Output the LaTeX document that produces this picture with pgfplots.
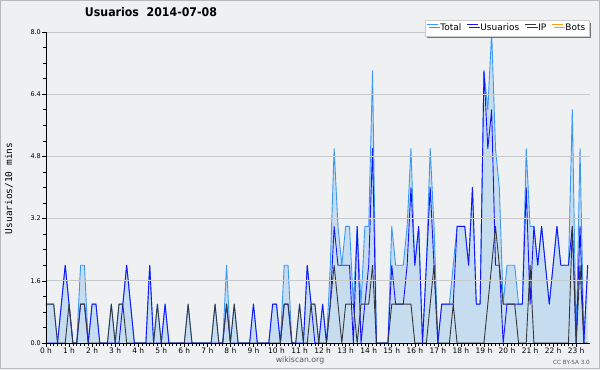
\documentclass[border=0pt]{standalone}
\usepackage{graphicx}
\usepackage{pgfplots}
\pgfplotsset{compat=1.18}
\usepackage{pgfplotstable}
\usepackage{fontspec}
\setmainfont{DejaVu Sans}
\newfontfamily\monofont{DejaVu Sans Mono}
\usetikzlibrary{shadows}
\definecolor{bgc}{RGB}{238,240,242}
\definecolor{fillc}{RGB}{198,221,240}
\definecolor{totc}{RGB}{58,152,250}
\definecolor{usuc}{RGB}{20,20,250}
\definecolor{ipc}{RGB}{55,55,60}
\definecolor{botc}{RGB}{255,160,20}
\definecolor{gridc}{RGB}{200,201,204}

\pgfplotstableread{
i T U P
0 1 0 1
1 1 0 1
2 1 0 1
3 0 0 0
4 1 1 0
5 2 2 0
6 1 1 1
7 0 0 0
8 0 0 0
9 2 1 1
10 2 1 1
11 0 0 0
12 1 1 0
13 1 1 0
14 0 0 0
15 0 0 0
16 0 0 0
17 1 0 1
18 0 0 0
19 1 0 1
20 1 1 1
21 2 2 0
22 1 1 0
23 0 0 0
24 0 0 0
25 0 0 0
26 0 0 0
27 2 2 0
28 0 0 0
29 1 0 1
30 0 0 0
31 1 1 0
32 0 0 0
33 0 0 0
34 0 0 0
35 0 0 0
36 0 0 0
37 1 0 1
38 0 0 0
39 0 0 0
40 0 0 0
41 0 0 0
42 0 0 0
43 0 0 0
44 1 0 1
45 0 0 0
46 0 0 0
47 2 1 1
48 0 0 0
49 1 0 1
50 0 0 0
51 0 0 0
52 0 0 0
53 0 0 0
54 1 1 0
55 0 0 0
56 0 0 0
57 0 0 0
58 0 0 0
59 1 1 0
60 1 1 0
61 0 0 0
62 2 1 1
63 2 1 1
64 0 0 0
65 0 0 0
66 1 0 1
67 0 0 0
68 2 2 0
69 1 1 1
70 1 0 1
71 0 0 0
72 1 1 0
73 0 0 0
74 2 1 1
75 5 3 2
76 3 2 1
77 2 2 0
78 3 2 1
79 3 2 1
80 1 0 1
81 3 3 0
82 1 0 1
83 3 1 1
84 3 2 1
85 7 5 2
86 0 0 0
87 0 0 0
88 0 0 0
89 0 0 0
90 3 2 1
91 2 1 1
92 2 1 1
93 2 1 1
94 3 2 1
95 5 4 1
96 2 2 0
97 3 3 0
98 0 0 0
99 2 2 0
100 5 4 1
101 3 2 2
102 0 0 0
103 1 1 0
104 1 1 0
105 1 1 0
106 2 1 1
107 3 3 0
108 3 3 0
109 3 3 0
110 2 2 0
111 4 4 0
112 1 1 0
113 1 1 0
114 7 7 0
115 6 5 1
116 8 6 2
117 5 2 3
118 4 2 2
119 1 0 1
120 2 1 1
121 2 1 1
122 2 1 1
123 1 1 0
124 1 1 0
125 5 4 0
126 3 1 2
127 3 3 0
128 2 2 0
129 3 3 0
130 2 2 0
131 1 1 0
132 2 2 0
133 3 3 0
134 2 2 0
135 2 2 0
136 2 2 0
137 6 3 3
138 0 0 0
139 5 3 2
140 0 0 0
141 2 2 0
}\datatable

\begin{document}
\begin{tikzpicture}
\useasboundingbox (0,0) rectangle (600bp,370bp);
\fill[bgc] (0,0) rectangle (600bp,370bp);
\draw[gray!55, line width=1bp] (0.5bp,1.5bp) rectangle (599.5bp,369.5bp);
\begin{axis}[
  at={(46bp,27bp)}, anchor=south west,
  scale only axis, width=544bp, height=311bp,
  xmin=0, xmax=141.6, ymin=0, ymax=8,
  axis lines*=left, axis line style={-, black, line width=0.8bp},
  axis on top,
  /pgf/number format/assume math mode=true,
  ytick={0,1.6,3.2,4.8,6.4,8}, yticklabels={0.0,1.6,3.2,4.8,6.4,8.0},
  minor y tick num=3,
  xtick={0,6,...,138},
  xticklabels={0 h,1 h,2 h,3 h,4 h,5 h,6 h,7 h,8 h,9 h,10 h,11 h,12 h,13 h,14 h,15 h,16 h,17 h,18 h,19 h,20 h,21 h,22 h,23 h},
  minor x tick num=5,
  ymajorgrids, grid style={gridc, line width=0.8bp},
  tick align=outside, tick style={black, line width=0.6bp},
  major tick length=4bp, minor tick length=2.5bp,
  xticklabel style={font=\fontsize{7.5}{8}\selectfont, inner sep=1bp},
  yticklabel style={font=\fontsize{6.5}{7}\selectfont, inner sep=1bp},
  ylabel={Usuarios/10 mins},
  ylabel style={at={(axis description cs:-0.068,0.497)}, anchor=center, font=\monofont\fontsize{9.5}{10}\selectfont},
  title={\scalebox{0.92}[1]{Usuarios\ \ 2014-07-08}},
  title style={at={(axis description cs:0.193,1.0434)}, anchor=center, font=\bfseries\fontsize{12}{14}\selectfont},
  legend columns=4,
  legend style={at={(axis description cs:0.998,1.0386)}, anchor=north east,
    draw=gray!40, fill=white, font=\fontsize{9}{10}\selectfont, inner sep=1.5bp,
    drop shadow={shadow xshift=2.5bp, shadow yshift=-2.5bp, fill=black!55, opacity=1},
    /tikz/every even column/.append style={column sep=3bp}},
  legend image code/.code={\path (0bp,0bp) (11bp,6bp); \draw[#1, line width=1.1bp] (0bp,3.2bp) -- (11bp,3.2bp);},
  every axis plot/.append style={line join=round},
]
\addplot[fill=fillc, draw=none, forget plot] table[x=i, y=T] {\datatable} \closedcycle;
\addplot[color=totc, line width=0.9bp] table[x=i, y=T] {\datatable};
\addlegendentry{Total}
\addplot[color=usuc, line width=0.9bp] table[x=i, y=U] {\datatable};
\addlegendentry{Usuarios}
\addplot[color=ipc, line width=0.9bp] table[x=i, y=P] {\datatable};
\addlegendentry{IP}
\addplot[color=botc, line width=0.9bp] coordinates {(0,0) (141,0)};
\addlegendentry{Bots}
\end{axis}
\node[text=black!65, font=\fontsize{7.8}{9}\selectfont] at (300bp,10bp) {wikiscan.org};
\node[text=black!65, font=\fontsize{5.7}{7}\selectfont, anchor=east, inner sep=0pt] at (590bp,8bp) {CC BY-SA 3.0};
\end{tikzpicture}
\end{document}
